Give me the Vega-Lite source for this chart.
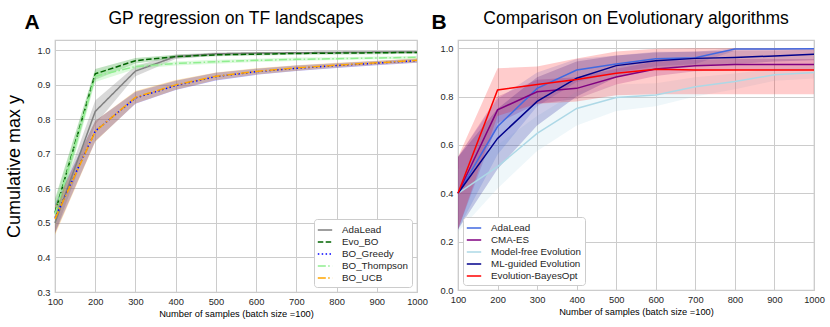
{
  "$schema": "https://vega.github.io/schema/vega-lite/v6.json",
  "background": "white",
  "padding": {"left": 4, "right": 14, "top": 8, "bottom": 4},
  "spacing": 3,
  "datasets": {
    "left": [
      {"m": "AdaLead", "x": 100, "y": 0.50, "lo": 0.47, "hi": 0.53},
      {"m": "AdaLead", "x": 200, "y": 0.823, "lo": 0.785, "hi": 0.855},
      {"m": "AdaLead", "x": 300, "y": 0.94, "lo": 0.925, "hi": 0.955},
      {"m": "AdaLead", "x": 400, "y": 0.982, "lo": 0.975, "hi": 0.988},
      {"m": "AdaLead", "x": 500, "y": 0.99, "lo": 0.986, "hi": 0.994},
      {"m": "AdaLead", "x": 600, "y": 0.992, "lo": 0.989, "hi": 0.995},
      {"m": "AdaLead", "x": 700, "y": 0.993, "lo": 0.99, "hi": 0.996},
      {"m": "AdaLead", "x": 800, "y": 0.994, "lo": 0.991, "hi": 0.997},
      {"m": "AdaLead", "x": 900, "y": 0.995, "lo": 0.992, "hi": 0.997},
      {"m": "AdaLead", "x": 1000, "y": 0.995, "lo": 0.992, "hi": 0.997},
      {"m": "Evo_BO", "x": 100, "y": 0.53, "lo": 0.5, "hi": 0.57},
      {"m": "Evo_BO", "x": 200, "y": 0.932, "lo": 0.915, "hi": 0.946},
      {"m": "Evo_BO", "x": 300, "y": 0.97, "lo": 0.962, "hi": 0.978},
      {"m": "Evo_BO", "x": 400, "y": 0.982, "lo": 0.977, "hi": 0.987},
      {"m": "Evo_BO", "x": 500, "y": 0.987, "lo": 0.983, "hi": 0.991},
      {"m": "Evo_BO", "x": 600, "y": 0.989, "lo": 0.985, "hi": 0.993},
      {"m": "Evo_BO", "x": 700, "y": 0.991, "lo": 0.987, "hi": 0.995},
      {"m": "Evo_BO", "x": 800, "y": 0.992, "lo": 0.988, "hi": 0.996},
      {"m": "Evo_BO", "x": 900, "y": 0.993, "lo": 0.989, "hi": 0.997},
      {"m": "Evo_BO", "x": 1000, "y": 0.994, "lo": 0.99, "hi": 0.998},
      {"m": "BO_Greedy", "x": 100, "y": 0.515, "lo": 0.47, "hi": 0.555},
      {"m": "BO_Greedy", "x": 200, "y": 0.766, "lo": 0.737, "hi": 0.795},
      {"m": "BO_Greedy", "x": 300, "y": 0.862, "lo": 0.845, "hi": 0.88},
      {"m": "BO_Greedy", "x": 400, "y": 0.898, "lo": 0.885, "hi": 0.912},
      {"m": "BO_Greedy", "x": 500, "y": 0.924, "lo": 0.913, "hi": 0.935},
      {"m": "BO_Greedy", "x": 600, "y": 0.938, "lo": 0.929, "hi": 0.947},
      {"m": "BO_Greedy", "x": 700, "y": 0.948, "lo": 0.94, "hi": 0.956},
      {"m": "BO_Greedy", "x": 800, "y": 0.956, "lo": 0.949, "hi": 0.963},
      {"m": "BO_Greedy", "x": 900, "y": 0.963, "lo": 0.957, "hi": 0.969},
      {"m": "BO_Greedy", "x": 1000, "y": 0.97, "lo": 0.964, "hi": 0.976},
      {"m": "BO_Thompson", "x": 100, "y": 0.525, "lo": 0.49, "hi": 0.56},
      {"m": "BO_Thompson", "x": 200, "y": 0.925, "lo": 0.908, "hi": 0.94},
      {"m": "BO_Thompson", "x": 300, "y": 0.953, "lo": 0.946, "hi": 0.96},
      {"m": "BO_Thompson", "x": 400, "y": 0.962, "lo": 0.956, "hi": 0.968},
      {"m": "BO_Thompson", "x": 500, "y": 0.967, "lo": 0.961, "hi": 0.973},
      {"m": "BO_Thompson", "x": 600, "y": 0.971, "lo": 0.966, "hi": 0.976},
      {"m": "BO_Thompson", "x": 700, "y": 0.974, "lo": 0.969, "hi": 0.979},
      {"m": "BO_Thompson", "x": 800, "y": 0.976, "lo": 0.972, "hi": 0.98},
      {"m": "BO_Thompson", "x": 900, "y": 0.978, "lo": 0.974, "hi": 0.982},
      {"m": "BO_Thompson", "x": 1000, "y": 0.98, "lo": 0.976, "hi": 0.984},
      {"m": "BO_UCB", "x": 100, "y": 0.512, "lo": 0.465, "hi": 0.55},
      {"m": "BO_UCB", "x": 200, "y": 0.765, "lo": 0.735, "hi": 0.795},
      {"m": "BO_UCB", "x": 300, "y": 0.864, "lo": 0.846, "hi": 0.882},
      {"m": "BO_UCB", "x": 400, "y": 0.9, "lo": 0.886, "hi": 0.914},
      {"m": "BO_UCB", "x": 500, "y": 0.925, "lo": 0.914, "hi": 0.936},
      {"m": "BO_UCB", "x": 600, "y": 0.939, "lo": 0.93, "hi": 0.948},
      {"m": "BO_UCB", "x": 700, "y": 0.949, "lo": 0.941, "hi": 0.957},
      {"m": "BO_UCB", "x": 800, "y": 0.957, "lo": 0.95, "hi": 0.964},
      {"m": "BO_UCB", "x": 900, "y": 0.964, "lo": 0.958, "hi": 0.97},
      {"m": "BO_UCB", "x": 1000, "y": 0.971, "lo": 0.965, "hi": 0.977}
    ],
    "right": [
      {"m": "AdaLead", "x": 100, "y": 0.4, "lo": 0.25, "hi": 0.55},
      {"m": "AdaLead", "x": 200, "y": 0.676, "lo": 0.56, "hi": 0.79},
      {"m": "AdaLead", "x": 300, "y": 0.834, "lo": 0.76, "hi": 0.9},
      {"m": "AdaLead", "x": 400, "y": 0.91, "lo": 0.86, "hi": 0.955},
      {"m": "AdaLead", "x": 500, "y": 0.935, "lo": 0.9, "hi": 0.97},
      {"m": "AdaLead", "x": 600, "y": 0.956, "lo": 0.925, "hi": 0.985},
      {"m": "AdaLead", "x": 700, "y": 0.961, "lo": 0.935, "hi": 0.985},
      {"m": "AdaLead", "x": 800, "y": 0.997, "lo": 0.99, "hi": 1.0},
      {"m": "AdaLead", "x": 900, "y": 0.997, "lo": 0.99, "hi": 1.0},
      {"m": "AdaLead", "x": 1000, "y": 0.998, "lo": 0.995, "hi": 1.0},
      {"m": "CMA-ES", "x": 100, "y": 0.4, "lo": 0.25, "hi": 0.55},
      {"m": "CMA-ES", "x": 200, "y": 0.745, "lo": 0.69, "hi": 0.8},
      {"m": "CMA-ES", "x": 300, "y": 0.82, "lo": 0.77, "hi": 0.87},
      {"m": "CMA-ES", "x": 400, "y": 0.834, "lo": 0.79, "hi": 0.88},
      {"m": "CMA-ES", "x": 500, "y": 0.881, "lo": 0.85, "hi": 0.915},
      {"m": "CMA-ES", "x": 600, "y": 0.914, "lo": 0.885, "hi": 0.945},
      {"m": "CMA-ES", "x": 700, "y": 0.928, "lo": 0.905, "hi": 0.952},
      {"m": "CMA-ES", "x": 800, "y": 0.933, "lo": 0.91, "hi": 0.955},
      {"m": "CMA-ES", "x": 900, "y": 0.933, "lo": 0.91, "hi": 0.955},
      {"m": "CMA-ES", "x": 1000, "y": 0.933, "lo": 0.91, "hi": 0.955},
      {"m": "Model-free Evolution", "x": 100, "y": 0.4, "lo": 0.24, "hi": 0.5},
      {"m": "Model-free Evolution", "x": 200, "y": 0.51, "lo": 0.42, "hi": 0.6},
      {"m": "Model-free Evolution", "x": 300, "y": 0.648, "lo": 0.575, "hi": 0.72},
      {"m": "Model-free Evolution", "x": 400, "y": 0.751, "lo": 0.68, "hi": 0.82},
      {"m": "Model-free Evolution", "x": 500, "y": 0.796, "lo": 0.74, "hi": 0.85},
      {"m": "Model-free Evolution", "x": 600, "y": 0.807, "lo": 0.76, "hi": 0.855},
      {"m": "Model-free Evolution", "x": 700, "y": 0.841, "lo": 0.8, "hi": 0.88},
      {"m": "Model-free Evolution", "x": 800, "y": 0.862, "lo": 0.83, "hi": 0.895},
      {"m": "Model-free Evolution", "x": 900, "y": 0.89, "lo": 0.865, "hi": 0.915},
      {"m": "Model-free Evolution", "x": 1000, "y": 0.9, "lo": 0.875, "hi": 0.925},
      {"m": "ML-guided Evolution", "x": 100, "y": 0.4, "lo": 0.25, "hi": 0.55},
      {"m": "ML-guided Evolution", "x": 200, "y": 0.627, "lo": 0.5, "hi": 0.75},
      {"m": "ML-guided Evolution", "x": 300, "y": 0.78, "lo": 0.68, "hi": 0.88},
      {"m": "ML-guided Evolution", "x": 400, "y": 0.876, "lo": 0.8, "hi": 0.945},
      {"m": "ML-guided Evolution", "x": 500, "y": 0.928, "lo": 0.88, "hi": 0.97},
      {"m": "ML-guided Evolution", "x": 600, "y": 0.948, "lo": 0.915, "hi": 0.982},
      {"m": "ML-guided Evolution", "x": 700, "y": 0.958, "lo": 0.93, "hi": 0.986},
      {"m": "ML-guided Evolution", "x": 800, "y": 0.962, "lo": 0.935, "hi": 0.99},
      {"m": "ML-guided Evolution", "x": 900, "y": 0.968, "lo": 0.945, "hi": 0.99},
      {"m": "ML-guided Evolution", "x": 1000, "y": 0.975, "lo": 0.95, "hi": 0.995},
      {"m": "Evolution-BayesOpt", "x": 100, "y": 0.4, "lo": 0.25, "hi": 0.55},
      {"m": "Evolution-BayesOpt", "x": 200, "y": 0.827, "lo": 0.72, "hi": 0.917},
      {"m": "Evolution-BayesOpt", "x": 300, "y": 0.85, "lo": 0.77, "hi": 0.924},
      {"m": "Evolution-BayesOpt", "x": 400, "y": 0.871, "lo": 0.78, "hi": 0.958},
      {"m": "Evolution-BayesOpt", "x": 500, "y": 0.896, "lo": 0.805, "hi": 0.986},
      {"m": "Evolution-BayesOpt", "x": 600, "y": 0.913, "lo": 0.81, "hi": 0.998},
      {"m": "Evolution-BayesOpt", "x": 700, "y": 0.91, "lo": 0.81, "hi": 1.0},
      {"m": "Evolution-BayesOpt", "x": 800, "y": 0.91, "lo": 0.81, "hi": 1.0},
      {"m": "Evolution-BayesOpt", "x": 900, "y": 0.91, "lo": 0.81, "hi": 1.0},
      {"m": "Evolution-BayesOpt", "x": 1000, "y": 0.91, "lo": 0.81, "hi": 1.0}
    ]
  },
  "hconcat": [
    {
      "title": {"text": "A", "anchor": "start", "frame": "bounds", "fontSize": 21, "fontWeight": "bold", "dx": 20, "dy": 24, "offset": 0},
      "resolve": {"scale": {"color": "independent", "fill": "independent", "strokeDash": "independent"}, "legend": {"color": "independent", "strokeDash": "independent"}},
      "vconcat": [
        {
          "title": "GP regression on TF landscapes",
          "width": 362,
          "height": 252,
          "data": {"name": "left"},
          "encoding": {
            "x": {"field": "x", "type": "quantitative", "scale": {"domain": [100, 1000], "nice": false, "zero": false},
                  "axis": {"values": [100, 200, 300, 400, 500, 600, 700, 800, 900, 1000], "format": "d", "labelOverlap": false, "title": "Number of samples (batch size =100)"}},
            "y": {"field": "y", "type": "quantitative", "scale": {"domain": [0.3, 1.03], "nice": false, "zero": false},
                  "axis": {"values": [0.3, 0.4, 0.5, 0.6, 0.7, 0.8, 0.9, 1.0], "format": ".1f", "labelOverlap": false, "title": "Cumulative max y", "titleFontSize": 18, "titlePadding": 14}}
          },
          "layer": [
            {
              "mark": {"type": "area", "opacity": 0.3},
              "encoding": {
                "y": {"field": "lo", "type": "quantitative", "scale": {"domain": [0.3, 1.03], "nice": false, "zero": false},
                      "axis": {"values": [0.3, 0.4, 0.5, 0.6, 0.7, 0.8, 0.9, 1.0], "format": ".1f", "labelOverlap": false, "title": "Cumulative max y", "titleFontSize": 18, "titlePadding": 14}},
                "y2": {"field": "hi"},
                "fill": {"field": "m", "type": "nominal", "legend": null,
                         "scale": {"domain": ["BO_UCB", "BO_Thompson", "BO_Greedy", "Evo_BO", "AdaLead"], "range": ["#ffa500", "#90ee90", "#0000ff", "#32a032", "#808080"]}}
              }
            },
            {
              "mark": {"type": "line", "strokeWidth": 1.5},
              "encoding": {
                "color": {"field": "m", "type": "nominal", "title": null,
                          "scale": {"domain": ["AdaLead", "Evo_BO", "BO_Greedy", "BO_Thompson", "BO_UCB"], "range": ["#808080", "#006400", "#0000ff", "#90ee90", "#ffa500"]},
                          "legend": {"orient": "bottom-right", "offset": 5}},
                "strokeDash": {"field": "m", "type": "nominal", "title": null,
                               "scale": {"domain": ["AdaLead", "Evo_BO", "BO_Greedy", "BO_Thompson", "BO_UCB"], "range": [[1, 0], [5.5, 2.4], [1.5, 2.4], [8, 2.4, 1.5, 2.4], [8, 2.4, 1.5, 2.4]]},
                               "legend": {"orient": "bottom-right", "offset": 5}}
              }
            }
          ]
        }
      ]
    },
    {
      "title": {"text": "B", "anchor": "start", "frame": "bounds", "fontSize": 21, "fontWeight": "bold", "dx": -8, "dy": 24, "offset": 0},
      "resolve": {"scale": {"color": "independent", "fill": "independent"}, "legend": {"color": "independent"}},
      "vconcat": [
        {
          "title": "Comparison on Evolutionary algorithms",
          "width": 356,
          "height": 250,
          "data": {"name": "right"},
          "encoding": {
            "x": {"field": "x", "type": "quantitative", "scale": {"domain": [100, 1000], "nice": false, "zero": false},
                  "axis": {"values": [100, 200, 300, 400, 500, 600, 700, 800, 900, 1000], "format": "d", "labelOverlap": false, "title": "Number of samples (batch size =100)"}},
            "y": {"field": "y", "type": "quantitative", "scale": {"domain": [0, 1.034], "nice": false, "zero": false},
                  "axis": {"values": [0, 0.2, 0.4, 0.6, 0.8, 1.0], "format": ".1f", "labelOverlap": false, "title": null}}
          },
          "layer": [
            {
              "mark": {"type": "area", "opacity": 0.2},
              "encoding": {
                "y": {"field": "lo", "type": "quantitative", "scale": {"domain": [0, 1.034], "nice": false, "zero": false},
                      "axis": {"values": [0, 0.2, 0.4, 0.6, 0.8, 1.0], "format": ".1f", "labelOverlap": false, "title": null}},
                "y2": {"field": "hi"},
                "fill": {"field": "m", "type": "nominal", "legend": null,
                         "scale": {"domain": ["Evolution-BayesOpt", "ML-guided Evolution", "Model-free Evolution", "CMA-ES", "AdaLead"], "range": ["#ff0000", "#00008b", "#add8e6", "#800080", "#4169e1"]}}
              }
            },
            {
              "mark": {"type": "line", "strokeWidth": 1.5},
              "encoding": {
                "color": {"field": "m", "type": "nominal", "title": null,
                          "scale": {"domain": ["AdaLead", "CMA-ES", "Model-free Evolution", "ML-guided Evolution", "Evolution-BayesOpt"], "range": ["#4169e1", "#800080", "#add8e6", "#00008b", "#ff0000"]},
                          "legend": {"orient": "bottom-left", "offset": 5}}
              }
            }
          ]
        }
      ]
    }
  ],
  "resolve": {"scale": {"color": "independent", "fill": "independent", "strokeDash": "independent"}, "legend": {"color": "independent", "strokeDash": "independent"}},
  "config": {
    "font": "Liberation Sans",
    "view": {"stroke": "#cccccc", "strokeWidth": 1.25},
    "title": {"fontSize": 17.5, "fontWeight": "normal", "color": "#000000", "offset": 13, "font": "Liberation Sans"},
    "axis": {
      "domain": false, "ticks": false, "grid": true, "gridColor": "#cccccc", "gridWidth": 1,
      "labelFont": "Liberation Sans", "labelFontSize": 9.3, "labelColor": "#262626", "labelPadding": 5,
      "labelOverlap": false, "labelFlush": false,
      "titleFont": "Liberation Sans", "titleFontSize": 9.3, "titleFontWeight": "normal", "titleColor": "#000000", "titlePadding": 3
    },
    "legend": {
      "fillColor": "white", "strokeColor": "#cccccc", "cornerRadius": 3, "padding": 4,
      "labelFont": "Liberation Sans", "labelFontSize": 9.8, "labelColor": "#262626", "labelOffset": 10,
      "symbolType": "M-1.2,0H1.2", "symbolSize": 144, "symbolStrokeWidth": 1.5, "rowPadding": 0, "symbolOpacity": 1
    }
  }
}
